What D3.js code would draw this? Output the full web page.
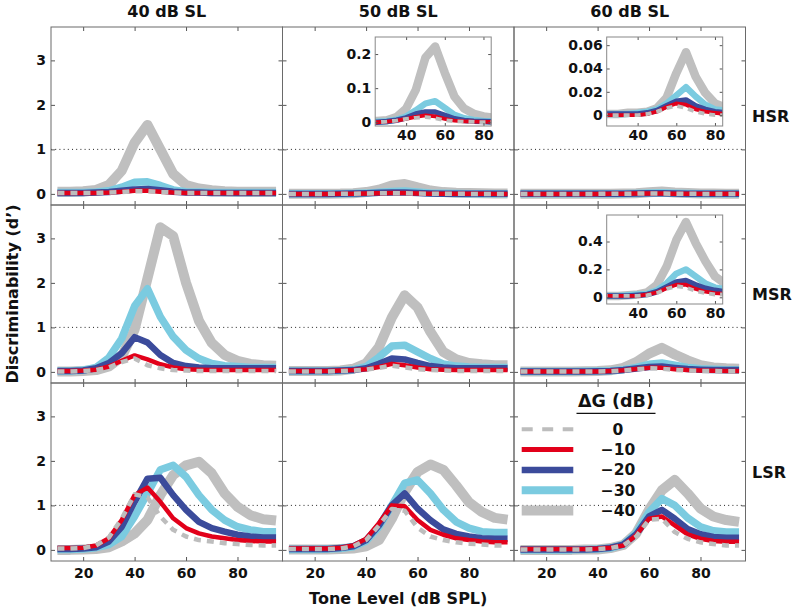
<!DOCTYPE html>
<html><head><meta charset="utf-8">
<script src="https://cdn.jsdelivr.net/npm/d3@7"></script>
<style>body{margin:0;background:#fff} text{font-family:"DejaVu Sans",sans-serif;}</style>
</head><body><svg id="c" width="794" height="610"></svg>
<script>
// ---- data ----
const toneLevels = [10,15,20,25,30,35,40,45,50,55,60,65,70,75,80,85,90,95];
const gainLabels = ["0","\u221210","\u221220","\u221230","\u221240"];
const colTitles = ["40 dB SL","50 dB SL","60 dB SL"];
const rowTitles = ["HSR","MSR","LSR"];
const yTicks = [0,1,2,3];
const xTicks = [20,40,60,80];

// each panel: [0, -10, -20, -30, -40]
const HSR_40 = [
  [0.02,0.02,0.02,0.02,0.03,0.04,0.06,0.06,0.04,0.03,0.02,0.02,0.02,0.02,0.02,0.02,0.02,0.02],
  [0.02,0.02,0.02,0.02,0.03,0.05,0.07,0.07,0.05,0.03,0.02,0.02,0.02,0.02,0.02,0.02,0.02,0.02],
  [0.02,0.02,0.02,0.03,0.04,0.07,0.10,0.11,0.08,0.05,0.03,0.03,0.02,0.02,0.02,0.02,0.02,0.02],
  [0.03,0.03,0.03,0.04,0.07,0.15,0.26,0.27,0.19,0.09,0.05,0.04,0.03,0.03,0.03,0.03,0.03,0.03],
  [0.05,0.05,0.06,0.09,0.20,0.52,1.15,1.55,1.00,0.45,0.20,0.12,0.08,0.06,0.05,0.05,0.05,0.05]
];
const HSR_50 = [
  [0,0,0,0,0.002,0.005,0.010,0.013,0.015,0.012,0.006,0.003,0.002,0.001,0,0,0,0],
  [0,0,0,0,0.002,0.005,0.010,0.016,0.020,0.017,0.010,0.005,0.003,0.002,0.001,0.001,0,0],
  [0,0,0,0,0.002,0.006,0.013,0.024,0.030,0.030,0.020,0.010,0.005,0.003,0.002,0.001,0.001,0.001],
  [0.001,0.001,0.001,0.002,0.003,0.008,0.017,0.035,0.055,0.062,0.042,0.022,0.012,0.007,0.004,0.003,0.002,0.002],
  [0.003,0.003,0.003,0.004,0.006,0.015,0.040,0.095,0.190,0.222,0.145,0.075,0.040,0.025,0.017,0.013,0.011,0.010]
];
const HSR_60 = [
  [0,0,0,0,0,0,0,0.001,0.003,0.006,0.008,0.006,0.003,0.001,0,0,0,0],
  [0,0,0,0,0,0,0,0.001,0.003,0.007,0.010,0.009,0.005,0.003,0.002,0.001,0.001,0.001],
  [0.001,0.001,0.001,0.001,0.001,0.001,0.001,0.002,0.004,0.008,0.012,0.013,0.008,0.005,0.003,0.002,0.002,0.002],
  [0.001,0.001,0.001,0.001,0.001,0.001,0.002,0.003,0.005,0.010,0.017,0.024,0.016,0.009,0.005,0.004,0.003,0.003],
  [0.001,0.001,0.001,0.001,0.001,0.002,0.002,0.003,0.006,0.015,0.036,0.054,0.033,0.019,0.010,0.007,0.005,0.005]
];
const MSR_40 = [
  [0.01,0.01,0.02,0.04,0.10,0.22,0.30,0.15,0.08,0.04,0.03,0.02,0.02,0.02,0.02,0.02,0.02,0.02],
  [0.02,0.02,0.03,0.05,0.12,0.25,0.37,0.28,0.17,0.10,0.06,0.05,0.04,0.04,0.04,0.04,0.04,0.04],
  [0.02,0.02,0.03,0.08,0.20,0.42,0.78,0.66,0.38,0.20,0.13,0.10,0.08,0.08,0.08,0.08,0.08,0.08],
  [0.02,0.02,0.04,0.10,0.32,0.75,1.48,1.87,1.24,0.79,0.49,0.30,0.19,0.14,0.12,0.10,0.10,0.10],
  [0.01,0.01,0.02,0.04,0.12,0.34,0.95,2.10,3.25,3.05,2.00,1.15,0.65,0.38,0.25,0.18,0.15,0.14]
];
const MSR_50 = [
  [0.01,0.01,0.01,0.01,0.02,0.03,0.05,0.09,0.14,0.10,0.06,0.04,0.03,0.02,0.02,0.02,0.02,0.02],
  [0.02,0.02,0.02,0.02,0.03,0.04,0.06,0.11,0.18,0.15,0.10,0.06,0.05,0.04,0.04,0.04,0.04,0.04],
  [0.02,0.02,0.02,0.02,0.03,0.04,0.08,0.18,0.30,0.28,0.20,0.13,0.10,0.08,0.08,0.08,0.08,0.08],
  [0.02,0.02,0.02,0.02,0.03,0.05,0.12,0.33,0.58,0.60,0.45,0.30,0.18,0.13,0.11,0.10,0.10,0.10],
  [0.02,0.02,0.02,0.02,0.03,0.07,0.19,0.56,1.22,1.72,1.45,0.90,0.45,0.28,0.20,0.17,0.15,0.15]
];
const MSR_60 = [
  [0.01,0.01,0.01,0.01,0.01,0.01,0.01,0.015,0.03,0.06,0.08,0.07,0.045,0.03,0.02,0.02,0.015,0.015],
  [0.01,0.01,0.01,0.01,0.01,0.01,0.01,0.02,0.035,0.065,0.09,0.09,0.06,0.04,0.03,0.025,0.02,0.02],
  [0.01,0.01,0.01,0.01,0.01,0.01,0.015,0.02,0.04,0.075,0.11,0.12,0.09,0.065,0.05,0.04,0.04,0.04],
  [0.01,0.01,0.01,0.01,0.01,0.015,0.02,0.025,0.05,0.10,0.17,0.20,0.15,0.10,0.07,0.06,0.05,0.05],
  [0.01,0.01,0.01,0.01,0.01,0.015,0.02,0.035,0.09,0.22,0.41,0.54,0.39,0.26,0.15,0.10,0.08,0.07]
];
const LSR_40 = [
  [0.03,0.03,0.04,0.10,0.28,0.70,1.25,1.18,0.75,0.45,0.30,0.22,0.19,0.15,0.13,0.11,0.10,0.10],
  [0.04,0.04,0.05,0.10,0.26,0.67,1.23,1.40,1.08,0.71,0.49,0.37,0.30,0.26,0.22,0.20,0.19,0.19],
  [0.02,0.02,0.03,0.06,0.19,0.52,1.08,1.60,1.62,1.23,0.90,0.63,0.49,0.41,0.34,0.30,0.28,0.28],
  [0.01,0.01,0.02,0.05,0.12,0.30,0.75,1.27,1.80,1.90,1.64,1.23,0.90,0.67,0.52,0.45,0.41,0.41],
  [0.00,0.00,0.01,0.02,0.06,0.19,0.37,0.67,1.23,1.68,1.90,1.98,1.72,1.27,0.97,0.78,0.69,0.66]
];
const LSR_50 = [
  [0.02,0.02,0.02,0.02,0.03,0.08,0.22,0.55,0.92,0.88,0.50,0.30,0.22,0.17,0.14,0.12,0.10,0.10],
  [0.03,0.03,0.03,0.03,0.05,0.10,0.25,0.60,1.00,0.98,0.67,0.45,0.34,0.26,0.22,0.19,0.17,0.17],
  [0.02,0.02,0.02,0.02,0.04,0.08,0.22,0.55,1.00,1.27,0.93,0.67,0.46,0.36,0.30,0.26,0.25,0.25],
  [0.01,0.01,0.01,0.02,0.03,0.07,0.20,0.52,1.00,1.50,1.57,1.27,0.90,0.63,0.49,0.41,0.39,0.39],
  [0.01,0.01,0.01,0.01,0.02,0.03,0.08,0.22,0.70,1.30,1.75,1.92,1.80,1.45,1.07,0.85,0.72,0.68]
];
const LSR_60 = [
  [0.01,0.01,0.01,0.01,0.01,0.01,0.02,0.04,0.10,0.30,0.68,0.70,0.40,0.25,0.17,0.13,0.10,0.10],
  [0.02,0.02,0.02,0.02,0.02,0.02,0.03,0.05,0.10,0.33,0.70,0.75,0.55,0.35,0.25,0.20,0.18,0.18],
  [0.01,0.01,0.01,0.01,0.01,0.01,0.02,0.05,0.12,0.35,0.75,0.90,0.70,0.47,0.35,0.29,0.27,0.27],
  [0.00,0.00,0.00,0.00,0.00,0.01,0.02,0.04,0.12,0.38,0.85,1.15,1.00,0.72,0.52,0.43,0.40,0.40],
  [0.00,0.00,0.00,0.00,0.00,0.01,0.01,0.04,0.11,0.37,0.90,1.34,1.57,1.27,0.93,0.75,0.67,0.63]
];
const panels = [[HSR_40,HSR_50,HSR_60],[MSR_40,MSR_50,MSR_60],[LSR_40,LSR_50,LSR_60]];

const insetHSR50Ticks = [0,0.1,0.2];
const insetHSR60Ticks = [0,0.02,0.04,0.06];
const insetMSR60Ticks = [0,0.2,0.4];
const insetXTicks = [40,60,80];
const insets = [
  {r:0,c:1,ticks:insetHSR50Ticks,dom:[-0.011,0.25],fmt:d3.format(".1~f")},
  {r:0,c:2,ticks:insetHSR60Ticks,dom:[-0.0093,0.067],fmt:d3.format(".2~f")},
  {r:1,c:2,ticks:insetMSR60Ticks,dom:[-0.048,0.59],fmt:d3.format(".1~f")}
];

// ---- style ----
const COLORS = ["#BDBDBD","#E2001A","#3B4B9B","#7BCBE0","#BFBFBF"];
const WIDTHS = [4.5,4.5,6.5,7.5,10];
const LEG_W = [4,5,6.5,8,10];

const svg = d3.select("#c");
const colX = [51,282.5,514], PW = 231.5;
const rowY = [27,205,383], PH = 178;
const FONT = "DejaVu Sans";

function drawSeries(g, data, x, y, k, dash){
  [4,3,2,1,0].forEach(i=>{
    g.append("path").datum(data[i])
      .attr("d", d3.line().x((d,j)=>x(toneLevels[j])).y(d=>y(d)))
      .attr("fill","none").attr("stroke",COLORS[i])
      .attr("stroke-width",WIDTHS[i]*k)
      .attr("stroke-linejoin","round")
      .attr("stroke-dasharray", i===0 ? dash : null);
  });
}

function styleAxis(sel, labels, size){
  sel.select(".domain").remove();
  sel.selectAll(".tick line").attr("stroke","#555");
  if(!labels){ sel.selectAll(".tick text").remove(); return; }
  sel.selectAll(".tick text").attr("fill","#111")
    .style("font-family",FONT).style("font-weight","bold").style("font-size",size+"px");
}

svg.append("defs");
for(let r=0;r<3;r++){
  for(let c=0;c<3;c++){
    const x0=colX[c], y0=rowY[r];
    const x = d3.scaleLinear().domain([7.5,97.5]).range([x0,x0+PW]);
    const y = d3.scaleLinear().domain([-0.25,3.75]).range([y0+PH,y0]);
    const g = svg.append("g");
    g.append("line").attr("x1",x0).attr("x2",x0+PW).attr("y1",y(1)).attr("y2",y(1))
      .attr("stroke","#222").attr("stroke-width",1).attr("stroke-dasharray","1,3.2");
    drawSeries(g, panels[r][c], x, y, 1, "7,6");
    const ab = g.append("g").attr("transform",`translate(0,${y0+PH})`)
      .call(d3.axisBottom(x).tickValues(xTicks).tickSizeInner(-4).tickSizeOuter(0).tickPadding(7));
    styleAxis(ab, r===2, 14);
    const at = g.append("g").attr("transform",`translate(0,${y0})`)
      .call(d3.axisTop(x).tickValues(xTicks).tickSizeInner(-4).tickSizeOuter(0));
    styleAxis(at, false, 14);
    const al = g.append("g").attr("transform",`translate(${x0},0)`)
      .call(d3.axisLeft(y).tickValues(yTicks).tickFormat(d3.format("d")).tickSizeInner(-4).tickSizeOuter(0).tickPadding(5));
    styleAxis(al, c===0, 14);
    const ar = g.append("g").attr("transform",`translate(${x0+PW},0)`)
      .call(d3.axisRight(y).tickValues(yTicks).tickSizeInner(-4).tickSizeOuter(0));
    styleAxis(ar, false, 14);
    g.append("rect").attr("x",x0).attr("y",y0).attr("width",PW).attr("height",PH)
      .attr("fill","none").attr("stroke","#6a6a6a").attr("stroke-width",1);
  }
}

insets.forEach((ins,idx)=>{
  const bx = colX[ins.c]+92.7, by = rowY[ins.r]+10, bw=116, bh=89;
  const x = d3.scaleLinear().domain([24,84]).range([bx,bx+bw]);
  const y = d3.scaleLinear().domain(ins.dom).range([by+bh,by]);
  const g = svg.append("g");
  g.append("rect").attr("x",bx).attr("y",by).attr("width",bw).attr("height",bh).attr("fill","#fff");
  svg.select("defs").append("clipPath").attr("id","clip"+idx)
    .append("rect").attr("x",bx).attr("y",by).attr("width",bw).attr("height",bh);
  const lg = g.append("g").attr("clip-path",`url(#clip${idx})`);
  drawSeries(lg, panels[ins.r][ins.c], x, y, 0.85, "6,5");
  const ab = g.append("g").attr("transform",`translate(0,${by+bh})`)
    .call(d3.axisBottom(x).tickValues(insetXTicks).tickSizeInner(-3).tickSizeOuter(0).tickPadding(4));
  styleAxis(ab, true, 14);
  const at = g.append("g").attr("transform",`translate(0,${by})`)
    .call(d3.axisTop(x).tickValues(insetXTicks).tickSizeInner(-3).tickSizeOuter(0));
  styleAxis(at, false, 14);
  const al = g.append("g").attr("transform",`translate(${bx},0)`)
    .call(d3.axisLeft(y).tickValues(ins.ticks).tickFormat(ins.fmt).tickSizeInner(-3).tickSizeOuter(0).tickPadding(4));
  styleAxis(al, true, 14);
  const ar = g.append("g").attr("transform",`translate(${bx+bw},0)`)
    .call(d3.axisRight(y).tickValues(ins.ticks).tickSizeInner(-3).tickSizeOuter(0));
  styleAxis(ar, false, 14);
  g.append("rect").attr("x",bx).attr("y",by).attr("width",bw).attr("height",bh)
    .attr("fill","none").attr("stroke","#888").attr("stroke-width",1);
});

colTitles.forEach((t,i)=>{
  svg.append("text").attr("x",colX[i]+PW/2).attr("y",17).attr("text-anchor","middle")
    .style("font-weight","bold").style("font-size","16px").attr("fill","#111").text(t);
});
rowTitles.forEach((t,i)=>{
  svg.append("text").attr("x",752).attr("y",rowY[i]+PH/2+6).attr("text-anchor","start")
    .style("font-weight","bold").style("font-size","16px").attr("fill","#111").text(t);
});
svg.append("text").attr("transform",`translate(18,${(rowY[0]+rowY[2]+PH)/2}) rotate(-90)`)
  .attr("text-anchor","middle").style("font-weight","bold").style("font-size","16px")
  .attr("fill","#111").text("Discriminability (d\u2019)");
svg.append("text").attr("x",colX[1]+PW/2).attr("y",604).attr("text-anchor","middle")
  .style("font-weight","bold").style("font-size","16px").attr("fill","#111").text("Tone Level (dB SPL)");

const lx = colX[2], ly = rowY[2];
const leg = svg.append("g");
leg.append("text").attr("x",lx+102).attr("y",ly+24).attr("text-anchor","middle")
  .style("font-size","17.5px").style("font-weight","bold").attr("fill","#111").text("\u0394G (dB)");
leg.append("line").attr("x1",lx+62.5).attr("x2",lx+141.5).attr("y1",ly+30.3).attr("y2",ly+30.3)
  .attr("stroke","#111").attr("stroke-width",1.3);
gainLabels.forEach((lab,i)=>{
  const yy = ly+46.3+20.3*i;
  leg.append("line").attr("x1",lx+7.7).attr("x2",lx+59.3).attr("y1",yy).attr("y2",yy)
    .attr("stroke",COLORS[i]).attr("stroke-width",LEG_W[i])
    .attr("stroke-dasharray", i===0 ? "11,9.5" : null);
  leg.append("text").attr("x",lx+104).attr("y",yy+5.5).attr("text-anchor","middle")
    .style("font-size","15.5px").style("font-weight","bold").attr("fill","#111").text(lab);
});
</script></body></html>
